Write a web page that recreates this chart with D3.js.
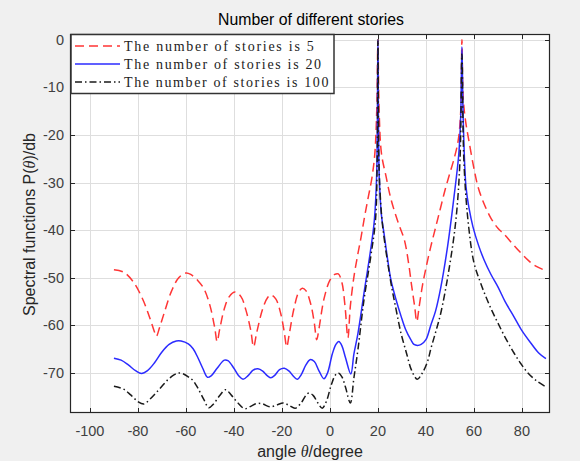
<!DOCTYPE html>
<html>
<head>
<meta charset="utf-8">
<script src="https://cdn.jsdelivr.net/npm/d3@7"></script>
<style>
  body { margin: 0; background: #f0f0f0; }
  svg { display: block; }
</style>
</head>
<body>
<svg id="chart"></svg>
<script>
// values (angle in degree, spectrum in db)
const xTicks = [-100, -80, -60, -40, -20, 0, 20, 40, 60, 80];
const yTicks = [-70, -60, -50, -40, -30, -20, -10, 0];
const legendLabels = [
  "The number of stories is 5",
  "The number of stories is 20",
  "The number of stories is 100",
];

const angles5 = [-90, -86, -82, -78, -75, -73, -72.3, -71, -69, -66, -63, -60, -58, -55, -52.5, -50, -48, -47, -46, -44, -42, -39.5, -37, -35, -33, -31.8, -30.5, -28, -26, -24.5, -22.5, -20.5, -19, -18, -17, -15, -13, -11.5, -10, -8, -6.5, -5.5, -4.5, -2.5, 0, 2, 3.5, 5, 6.3, 7.5, 8.5, 10, 11.5, 13, 14.5, 16, 17.5, 18.7, 19.5, 20, 20.5, 21.5, 23.3, 25.5, 28.5, 31, 32.8, 34, 35.3, 36.2, 37.2, 38.6, 40, 42, 44, 46, 48, 50, 52, 53.5, 54.5, 55, 55.5, 56.5, 58, 60, 61.7, 64, 67, 70, 72.5, 76, 79.6, 83, 86, 90];
const db5 = [-48.3, -48.8, -50.8, -54.5, -58.5, -61.5, -62.3, -60.5, -57.3, -52.8, -50, -49, -49.3, -50.6, -52.3, -55.8, -60.5, -63.4, -61, -56.5, -54, -53, -54, -56.8, -61, -64.5, -61.5, -56.5, -54.2, -53.6, -54.5, -57.5, -61.5, -64.5, -62, -56.5, -53, -52.2, -52.7, -55.5, -59.5, -63, -60.5, -54.5, -50.5, -49.3, -49.2, -51, -56, -62.6, -56, -49.8, -45.4, -41.4, -37, -33, -29, -24, -15, 0, -15, -24, -28.5, -33.6, -38.5, -42, -47, -51.5, -56, -59.2, -56, -51.5, -48, -43.5, -39.5, -35.5, -31.5, -28, -24.5, -21, -15, 0, -12, -17, -21.5, -27, -30.9, -34.2, -37.4, -39.6, -40.8, -42.8, -44.8, -46.5, -47.6, -48.5];

const angles20 = [-90, -87, -84, -81, -78.5, -76, -73, -70, -67, -64, -62, -59, -57, -55, -53, -51, -49.5, -47, -44, -42.5, -40, -38, -36.2, -34, -32, -30, -28, -26, -24.6, -23, -21, -19, -17, -15, -13.5, -12, -10, -8.3, -6.5, -4.5, -2.5, -1, 1, 2.5, 3.7, 5, 6.5, 8.7, 10, 11.7, 14.2, 17, 18.5, 19.5, 20, 20.5, 21.5, 22.5, 24, 25.4, 27.5, 29.6, 31.5, 33.7, 35, 36.5, 38, 40, 42, 44, 46.2, 49, 51.7, 53.7, 54.5, 55, 55.5, 56.7, 58, 59.6, 62, 64.2, 67, 70, 73, 76.7, 80, 83.7, 87, 90];
const db20 = [-66.9, -67.3, -68.3, -69.5, -70.1, -69.5, -67.8, -65.6, -64, -63.3, -63.3, -63.9, -64.9, -66.8, -69, -70.9, -70.6, -69, -67.3, -67.4, -69, -70.6, -71.3, -70.5, -69.4, -69.1, -69.6, -70.6, -71, -70.5, -69.3, -69, -69.6, -70.8, -71.3, -70.4, -68.3, -67.2, -67.6, -69.6, -71.2, -70, -66, -64, -63.4, -64.3, -66.8, -70.2, -66, -61.6, -53.2, -44, -38, -28, 0, -28, -37, -40.5, -46, -50.4, -54.5, -58, -60.8, -63, -64, -64.2, -64, -63, -60, -57, -52, -43.5, -33, -24, -16, -1.5, -16, -30.9, -35.5, -39.3, -43.3, -46.2, -49.2, -51.9, -55, -58.2, -61.1, -63.7, -65.8, -67];

const angles100 = [-90, -86, -83, -80, -77.5, -75, -72.5, -70, -67.5, -65, -63, -61, -59, -57, -55, -52.5, -50.5, -48.5, -46, -43.5, -41, -38.5, -35.5, -33, -30.5, -28, -25, -22, -19.5, -17, -14.5, -12, -10, -8.7, -7, -5, -3.2, -1.5, 0.5, 2.3, 3.5, 5, 6.5, 8.5, 10, 11.7, 14.2, 17, 19, 19.7, 20, 20.4, 21, 22, 25.4, 27.5, 29.6, 32, 34, 36.4, 38.5, 40.8, 42, 44, 46.2, 49.6, 52.5, 54.2, 55, 55.8, 57.5, 60, 62.5, 65, 67.5, 70, 73, 76.7, 79.5, 82.5, 86, 90];
const db100 = [-72.8, -73.4, -74.6, -76, -76.5, -75.5, -74.2, -72.8, -71.4, -70.4, -70, -70.2, -70.8, -71.6, -73.2, -75.6, -77.3, -76.5, -74.8, -73.5, -74.7, -76.2, -77.5, -77, -76.4, -76.5, -77.1, -76.7, -76.3, -76.8, -77.4, -76.3, -74.7, -74.2, -74.7, -76.3, -77.4, -76, -72.6, -70.4, -70, -70.8, -73, -76.3, -71, -65, -54.6, -45.6, -37.8, -25, 0, -25, -33, -39.3, -51, -56.5, -61.6, -66, -69.4, -71.3, -70, -67.4, -65, -61.5, -57.4, -48.3, -37.8, -25.2, -3, -25.2, -37.8, -46.8, -50.7, -54, -56.9, -59.5, -62.5, -65.8, -68, -70, -71.6, -72.9];

const width = 580, height = 461;
const mLeft = 70, mRight = 550, mTop = 34, mBottom = 413;

const svg = d3.select("#chart").attr("width", width).attr("height", height)
  .style("font-family", "Arial, 'Liberation Sans', sans-serif");

svg.append("rect").attr("width", width).attr("height", height).attr("fill", "#f0f0f0");

const x = d3.scaleLinear().domain([-108.3, 91.7]).range([mLeft, mRight]);
const y = d3.scaleLinear().domain([-78.4, 1.2]).range([mBottom, mTop]);

svg.append("rect")
  .attr("x", mLeft).attr("y", mTop)
  .attr("width", mRight - mLeft).attr("height", mBottom - mTop)
  .attr("fill", "#fff");

// grid
const grid = svg.append("g").attr("stroke", "#dedede").attr("stroke-width", 1);
grid.selectAll(".gx").data(xTicks).join("line")
  .attr("x1", (d) => Math.round(x(d)) + 0.5).attr("x2", (d) => Math.round(x(d)) + 0.5)
  .attr("y1", mTop).attr("y2", mBottom);
grid.selectAll(".gy").data(yTicks).join("line")
  .attr("y1", (d) => Math.round(y(d)) + 0.5).attr("y2", (d) => Math.round(y(d)) + 0.5)
  .attr("x1", mLeft).attr("x2", mRight);

svg.append("clipPath").attr("id", "clip")
  .append("rect").attr("x", mLeft).attr("y", mTop)
  .attr("width", mRight - mLeft).attr("height", mBottom - mTop);

const series = [
  { angles: angles5, db: db5, color: "#ff3535", dash: "9,5" },
  { angles: angles20, db: db20, color: "#2b2bff", dash: null },
  { angles: angles100, db: db100, color: "#1a1a1a", dash: "7,3,1.5,3" },
];

const line = d3.line()
  .x((d) => x(d[0]))
  .y((d) => y(d[1]))
  .curve(d3.curveCatmullRom.alpha(0.5));

svg.append("g").attr("clip-path", "url(#clip)")
  .selectAll("path").data(series).join("path")
  .attr("d", (s) => line(d3.zip(s.angles, s.db)))
  .attr("fill", "none")
  .attr("stroke", (s) => s.color)
  .attr("stroke-width", 1.5)
  .attr("stroke-dasharray", (s) => s.dash);

// axes, MATLAB style box with inward ticks
const axisColor = "#262626";
const tick = 5;
const ax = svg.append("g").attr("stroke", axisColor).attr("stroke-width", 1);
ax.append("rect")
  .attr("x", mLeft + 0.5).attr("y", mTop + 0.5)
  .attr("width", mRight - mLeft - 1).attr("height", mBottom - mTop - 1)
  .attr("fill", "none").attr("stroke-width", 1.2);
xTicks.forEach((d) => {
  const px = Math.round(x(d)) + 0.5;
  ax.append("line").attr("x1", px).attr("x2", px).attr("y1", mBottom).attr("y2", mBottom - tick);
  ax.append("line").attr("x1", px).attr("x2", px).attr("y1", mTop).attr("y2", mTop + tick);
});
yTicks.forEach((d) => {
  const py = Math.round(y(d)) + 0.5;
  ax.append("line").attr("y1", py).attr("y2", py).attr("x1", mLeft).attr("x2", mLeft + tick);
  ax.append("line").attr("y1", py).attr("y2", py).attr("x1", mRight).attr("x2", mRight - tick);
});

svg.append("g").selectAll("text").data(xTicks).join("text")
  .attr("x", (d) => x(d)).attr("y", mBottom + 23)
  .attr("text-anchor", "middle").attr("font-size", 14.5).attr("fill", "#404040")
  .text((d) => d);

svg.append("g").selectAll("text").data(yTicks).join("text")
  .attr("x", mLeft - 6).attr("y", (d) => y(d) + 5)
  .attr("text-anchor", "end").attr("font-size", 14.5).attr("fill", "#404040")
  .text((d) => d);

// title and labels
svg.append("text")
  .attr("x", 311).attr("y", 25)
  .attr("text-anchor", "middle").attr("font-size", 15.8).attr("fill", "#000")
  .text("Number of different stories");

const xl = svg.append("text")
  .attr("x", 310).attr("y", 457)
  .attr("text-anchor", "middle").attr("font-size", 16).attr("fill", "#262626");
xl.append("tspan").text("angle ");
xl.append("tspan").attr("font-style", "italic").attr("font-family", "'Liberation Serif', serif").text("θ");
xl.append("tspan").text("/degree");

const yl = svg.append("text")
  .attr("transform", `translate(35, ${(mTop + mBottom) / 2 + 1}) rotate(-90)`)
  .attr("text-anchor", "middle").attr("font-size", 16).attr("fill", "#262626");
yl.append("tspan").text("Spectral functions P(");
yl.append("tspan").attr("font-style", "italic").attr("font-family", "'Liberation Serif', serif").text("θ");
yl.append("tspan").text(")/db");

// legend
const lg = svg.append("g");
lg.append("rect")
  .attr("x", 71).attr("y", 34.5).attr("width", 263).attr("height", 59)
  .attr("fill", "#fff").attr("stroke", "#333").attr("stroke-width", 1.5);
const rows = lg.selectAll("g").data(series).join("g")
  .attr("transform", (d, i) => `translate(0, ${46 + i * 18})`);
rows.append("line")
  .attr("x1", 75).attr("x2", 120)
  .attr("stroke", (s) => s.color).attr("stroke-width", 1.5)
  .attr("stroke-dasharray", (s) => s.dash);
rows.append("text")
  .attr("x", 124).attr("y", 5)
  .attr("font-family", "'Liberation Serif', 'DejaVu Serif', serif")
  .attr("font-size", 14).attr("fill", "#222")
  .attr("textLength", (d, i) => legendLabels[i].length * 7.3)
  .attr("lengthAdjust", "spacing")
  .text((d, i) => legendLabels[i]);
</script>
</body>
</html>
